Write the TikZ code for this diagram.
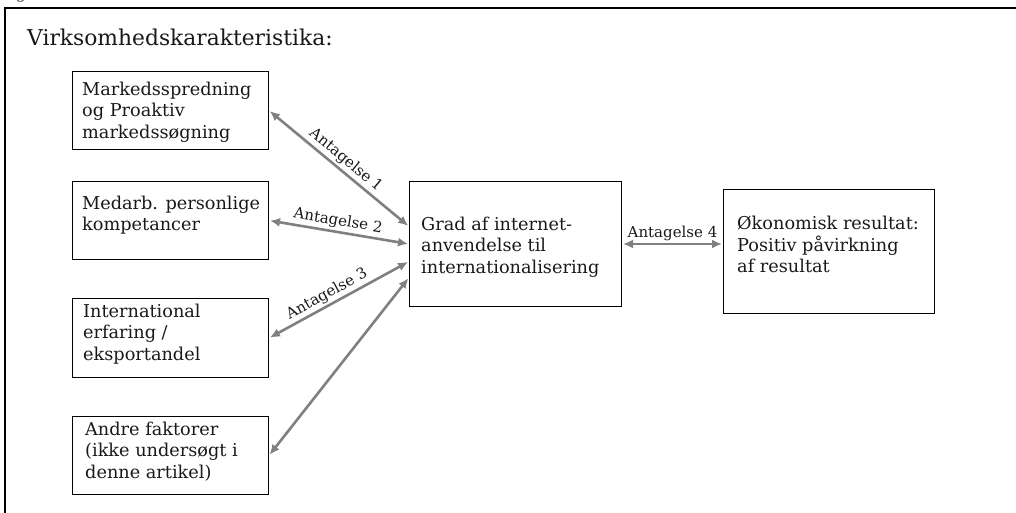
\documentclass[tikz,border=0pt]{standalone}
\usepackage{fontspec}
\setmainfont{DejaVu Serif}
\usetikzlibrary{arrows.meta}
\begin{document}
\begin{tikzpicture}[x=1pt,y=-1pt,
  bx/.style={draw=black, line width=1pt, inner sep=0pt, anchor=north west},
  txt/.style={anchor=north west, inner sep=0pt, align=left, text=black!90,
    font=\fontsize{17.7}{21.5}\selectfont},
  arr/.style={draw=black!50, line width=2.6pt, {Latex[length=10pt,width=9pt]}-{Latex[length=10pt,width=9pt]}, shorten <=1pt, shorten >=1pt},
  lab/.style={font=\fontsize{15}{17}\selectfont, text=black!90, inner sep=2pt}]
\clip (0,0) rectangle (1016,513);
\useasboundingbox (0,0) rectangle (1016,513);
\node[anchor=base, text=black!70, font=\fontsize{17}{20}\selectfont, inner sep=0pt] (cut) at (21,-1) {g};
\draw[line width=1.3pt] (5,530) -- (5,8) -- (1030,8);
\node[anchor=base west, inner sep=0pt, text=black!90, font=\fontsize{21.8}{26}\selectfont] (title) at (27,46) {Virksomhedskarakteristika:};
% boxes
\node[bx, minimum width=196pt, minimum height=78pt] (b1) at (72,71) {};
\node[bx, minimum width=196pt, minimum height=78pt] (b2) at (72,181) {};
\node[bx, minimum width=196pt, minimum height=79pt] (b3) at (72,298) {};
\node[bx, minimum width=196pt, minimum height=78pt] (b4) at (72,416) {};
\node[bx, minimum width=212pt, minimum height=125pt] (c) at (409,181) {};
\node[bx, minimum width=211pt, minimum height=124pt] (r) at (723,189) {};
% texts
\node[txt] (t1) at (82,81.5) {Markedsspredning\\og Proaktiv\\markedssøgning};
\node[txt] (t2) at (82,195.5) {Medarb. personlige\\kompetancer};
\node[txt] (t3) at (83,303.5) {International\\erfaring /\\eksportandel};
\node[txt] (t4) at (85,421.5) {Andre faktorer\\(ikke undersøgt i\\denne artikel)};
\node[txt] (tc) at (421,216.5) {Grad af internet-\\anvendelse til\\internationalisering};
\node[txt] (tr) at (737,216) {Økonomisk resultat:\\Positiv påvirkning\\af resultat};
% connectors
\draw[arr] (b1.east) -- ([yshift=17.5pt]c.west) node[lab, pos=0.5, sloped, above] (l1) {Antagelse 1};
\draw[arr] (b2.east) -- (c.west) node[lab, pos=0.48, sloped, above] (l2) {Antagelse 2};
\draw[arr] (b3.east) -- ([yshift=-17.5pt]c.west) node[lab, pos=0.45, sloped, above] (l3) {Antagelse 3};
\draw[arr] (b4.east) -- ([yshift=-33.5pt]c.west);
\draw[arr] (c.east) -- (c.east -| r.west) node[lab, midway, above] (l4) {Antagelse 4};
\end{tikzpicture}
\end{document}
